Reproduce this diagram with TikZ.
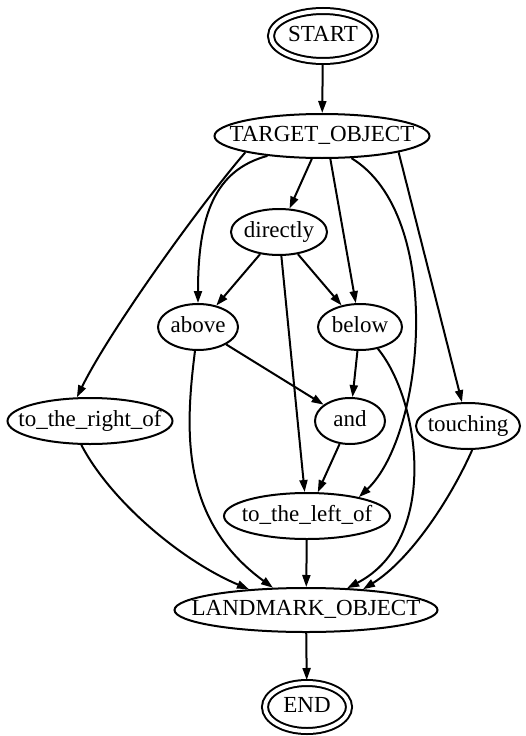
\documentclass[tikz,border=0pt]{standalone}
\usepackage{fontspec}
\setmainfont{Liberation Serif}
\usetikzlibrary{shapes.geometric, arrows.meta}
\newcommand{\lab}[1]{\makebox[0pt]{#1}}
\tikzset{word/.style={draw, ellipse, line width=2pt, inner sep=0pt, minimum height=46pt, text height=15.5pt, text depth=5pt, font=\fontsize{23}{27}\selectfont},
  terminal/.style={word, double, double distance=4pt, outer sep=3pt},
  every edge/.style={draw, line width=2pt, -{Triangle[length=12pt,width=8pt]}},
  flow/.style={line width=2pt, -{Triangle[length=12pt,width=8pt]}}}

\begin{document}
\begin{tikzpicture}[x=1pt, y=-1pt]
            \useasboundingbox (0,0) rectangle (525,736);
            \node[terminal, minimum width=104pt, minimum height=50pt] (start) at (323,36) {\lab{START}};
            \node[word, minimum width=215pt, minimum height=44pt] (target) at (322,136) {\lab{TARGET\_OBJECT}};
            \node[word, minimum width=96pt] (directly) at (279,232) {\lab{directly}};
            \node[word, minimum width=80pt] (abv) at (198,327) {\lab{above}};
            \node[word, minimum width=84pt] (blw) at (360,327) {\lab{below}};
            \node[word, minimum width=165pt] (rightof) at (90,421) {\lab{to\_the\_right\_of}};
            \node[word, minimum width=70pt] (conj) at (350,421) {\lab{and}};
            \node[word, minimum width=104pt] (touch) at (468,426) {\lab{touching}};
            \node[word, minimum width=166pt] (leftof) at (307,516) {\lab{to\_the\_left\_of}};
            \node[word, minimum width=263pt, minimum height=44pt] (landmark) at (306,610) {\lab{LANDMARK\_OBJECT}};
            \node[terminal, minimum width=84pt, minimum height=48pt] (finish) at (307,707) {\lab{END}};

            \draw   (start) edge (target)
                    (target.-114) edge (directly)
                    (target.-70) edge (blw)
                    (target.-12.5) edge (touch)
                    (directly) edge (abv)
                    (directly) edge (blw)
                    (directly) edge (leftof)
                    (abv) edge (conj)
                    (blw) edge (conj)
                    (conj) edge (leftof)
                    (leftof) edge (landmark)
                    (landmark) edge (finish);

            % curved links
            \draw[flow] (target.-160) .. controls (215,170) and (198,215) .. (abv);
            \draw[flow] (target.-168) .. controls (200,205) and (110,330) .. (rightof.119);
            \draw[flow] (target.-37) .. controls (445,215) and (425,435) .. (leftof.20);
            \draw[flow] (abv) .. controls (185,430) and (180,520) .. (landmark.146);
            \draw[flow] (blw) .. controls (420,400) and (440,540) .. (landmark.28);
            \draw[flow] (rightof.-110) .. controls (110,500) and (180,560) .. (landmark.160);
            \draw[flow] (touch.-80) .. controls (450,500) and (410,560) .. (landmark.20);
        \end{tikzpicture}
\end{document}
